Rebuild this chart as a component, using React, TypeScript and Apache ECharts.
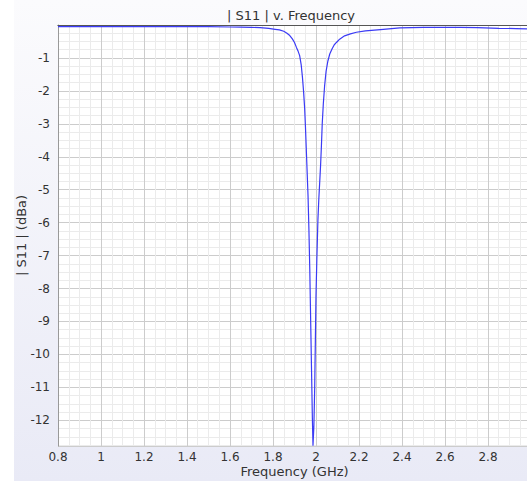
import React, { useEffect, useRef } from "react";
import * as echarts from "echarts";

// Frequency samples (GHz)
const freqGHz = [
  0.8, 0.9, 1.0, 1.1, 1.2, 1.3, 1.4, 1.5, 1.6, 1.65, 1.7, 1.74, 1.78, 1.81, 1.83,
  1.85, 1.865, 1.878, 1.89, 1.9, 1.909, 1.917, 1.924, 1.931, 1.937, 1.942, 1.947,
  1.951, 1.955, 1.959, 1.963, 1.967, 1.971, 1.975, 1.979, 1.983, 1.986, 1.99,
  1.994, 1.997, 2.0, 2.004, 2.009, 2.013, 2.017, 2.021, 2.025, 2.029, 2.034, 2.04,
  2.047, 2.055, 2.064, 2.075, 2.085, 2.095, 2.11, 2.133, 2.16, 2.188, 2.23, 2.3,
  2.39, 2.5, 2.6, 2.67, 2.75, 2.85, 2.93, 3.0,
];

// |S11| (dBa)
const s11dB = [
  -0.05, -0.05, -0.05, -0.05, -0.05, -0.05, -0.05, -0.05, -0.06, -0.065, -0.07,
  -0.08, -0.1, -0.13, -0.15, -0.19, -0.25, -0.32, -0.42, -0.53, -0.68, -0.8,
  -0.93, -1.2, -1.59, -2.0, -2.5, -3.1, -3.8, -4.5, -5.2, -6.2, -7.4, -8.9,
  -10.4, -11.9, -12.77, -12.2, -11.0, -9.6, -8.2, -7.1, -5.9, -5.3, -4.8, -4.3,
  -3.7, -3.0, -2.4, -1.85, -1.4, -1.1, -0.88, -0.72, -0.6, -0.53, -0.43, -0.33,
  -0.27, -0.22, -0.18, -0.14, -0.09, -0.07, -0.07, -0.07, -0.08, -0.1, -0.11,
  -0.12,
];

const X_MIN = 0.8;
const X_MAX = 3.0;
const X_STEP = 0.2;
const Y_MIN = -12.78;
const Y_MAX = 0;

const TITLE = "| S11 | v. Frequency";
const X_NAME = "Frequency (GHz)";
const Y_NAME = "| S11 | (dBa)";

const FONT = "DejaVu Sans";

export default function App() {
  const ref = useRef<HTMLDivElement>(null);

  useEffect(() => {
    if (!ref.current) return;
    const chart = echarts.init(ref.current, undefined, { renderer: "svg" });
    const data = freqGHz.map((f, i) => [f, s11dB[i]]);

    chart.setOption({
      animation: false,
      backgroundColor: "#ffffff",
      textStyle: { fontFamily: FONT },
      graphic: [
        {
          type: "rect",
          z: -10,
          silent: true,
          shape: { x: 14, y: 0, width: 513, height: 481 },
          style: {
            fill: new echarts.graphic.LinearGradient(0, 0, 0, 1, [
              { offset: 0, color: "#fbfbfd" },
              { offset: 1, color: "#e9eaf6" },
            ]),
          },
        },
      ],
      title: {
        text: TITLE,
        left: 227,
        top: 9,
        padding: 0,
        textStyle: {
          fontFamily: FONT,
          fontSize: 13,
          fontWeight: "normal",
          color: "#333333",
        },
      },
      grid: {
        left: 58,
        top: 25,
        width: 473,
        height: 421,
        show: true,
        backgroundColor: "#ffffff",
        borderWidth: 0,
        containLabel: false,
        outerBoundsMode: "none",
      },
      xAxis: [
        {
          type: "value",
          min: X_MIN,
          max: X_MAX,
          interval: X_STEP,
          name: X_NAME,
          nameLocation: "middle",
          nameGap: 19,
          nameMoveOverlap: false,
          nameTextStyle: { fontFamily: FONT, fontSize: 13, color: "#333333" },
          axisLine: { show: true, lineStyle: { color: "#999999", width: 1 } },
          axisTick: { show: false },
          axisLabel: {
            margin: 5,
            fontFamily: FONT,
            fontSize: 12,
            color: "#333333",
            showMaxLabel: false,
          },
          splitLine: { show: true, lineStyle: { color: "#cccccc", width: 1 } },
          minorTick: { show: false, splitNumber: 4 },
          minorSplitLine: { show: true, lineStyle: { color: "#ebebeb", width: 1 } },
        },
        {
          type: "value",
          position: "top",
          min: X_MIN,
          max: X_MAX,
          axisLine: { show: true, onZero: false, lineStyle: { color: "#555555", width: 1 } },
          axisTick: { show: false },
          axisLabel: { show: false },
          splitLine: { show: false },
        },
      ],
      yAxis: {
        type: "value",
        min: Y_MIN,
        max: Y_MAX,
        splitNumber: 13,
        name: Y_NAME,
        nameLocation: "middle",
        nameGap: 30,
        nameMoveOverlap: false,
        nameTextStyle: { fontFamily: FONT, fontSize: 13, color: "#333333" },
        axisLine: { show: true, onZero: false, lineStyle: { color: "#999999", width: 1 } },
        axisTick: { show: false },
        axisLabel: {
          margin: 8,
          fontFamily: FONT,
          fontSize: 12,
          color: "#333333",
          showMinLabel: false,
          showMaxLabel: false,
        },
        splitLine: { show: true, lineStyle: { color: "#cccccc", width: 1 } },
        minorTick: { show: false, splitNumber: 4 },
        minorSplitLine: { show: true, lineStyle: { color: "#ebebeb", width: 1 } },
      },
      series: [
        {
          type: "line",
          data,
          xAxisIndex: 0,
          showSymbol: false,
          symbol: "none",
          lineStyle: { color: "#3b3bf5", width: 1.2 },
          clip: true,
        },
      ],
    });

    return () => chart.dispose();
  }, []);

  return (
    <div
      ref={ref}
      style={{ position: "fixed", left: 0, top: 0, width: 527, height: 481 }}
    />
  );
}
